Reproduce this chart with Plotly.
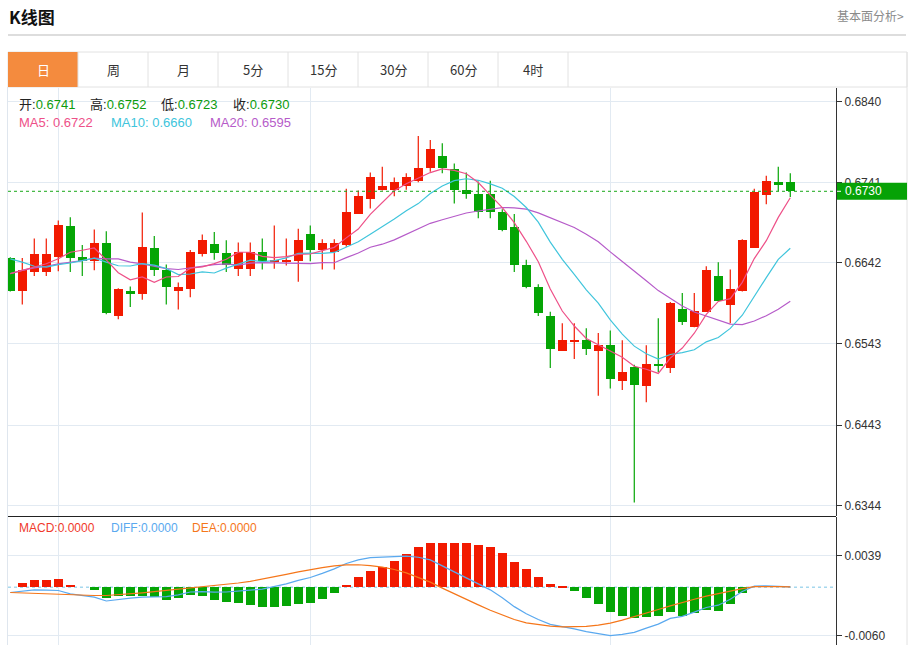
import plotly.graph_objects as go
import pandas as pd

# ---------------- data ----------------
opens = [0.6648, 0.6608, 0.6631, 0.6631, 0.6649, 0.6688, 0.6649, 0.6644, 0.6666, 0.6577,
         0.6607, 0.6604, 0.6661, 0.6634, 0.6608, 0.6610, 0.6653, 0.6665, 0.6654, 0.6635,
         0.6635, 0.6655, 0.6644, 0.6643, 0.6644, 0.6677, 0.6658, 0.6656, 0.6664, 0.6702,
         0.6720, 0.6732, 0.6731, 0.6737, 0.6743, 0.6758, 0.6773, 0.6757, 0.6732, 0.6727,
         0.6727, 0.6704, 0.6686, 0.6640, 0.6613, 0.6577, 0.6534, 0.6545, 0.6547, 0.6534,
         0.6541, 0.6497, 0.6514, 0.6491, 0.6518, 0.6513, 0.6586, 0.6563, 0.6582, 0.6626,
         0.6591, 0.6607, 0.6661, 0.6726, 0.6742, 0.6741]
highs = [0.6649, 0.6648, 0.6672, 0.6672, 0.6694, 0.6698, 0.6664, 0.6683, 0.6681, 0.6611,
         0.6613, 0.6704, 0.6675, 0.6640, 0.6618, 0.6658, 0.6677, 0.6680, 0.6670, 0.6667,
         0.6667, 0.6672, 0.6688, 0.6672, 0.6684, 0.6688, 0.6671, 0.6671, 0.6733, 0.6731,
         0.6753, 0.6760, 0.6747, 0.6752, 0.6798, 0.6793, 0.6789, 0.6764, 0.6753, 0.6742,
         0.6743, 0.6708, 0.6702, 0.6646, 0.6616, 0.6582, 0.6568, 0.6568, 0.6562, 0.6556,
         0.6559, 0.6547, 0.6517, 0.6541, 0.6574, 0.6594, 0.6605, 0.6605, 0.6638, 0.6643,
         0.6634, 0.6671, 0.6733, 0.6749, 0.6760, 0.6752]
lows = [0.6607, 0.6591, 0.6626, 0.6626, 0.6632, 0.6631, 0.6626, 0.6633, 0.6579, 0.6573,
        0.6588, 0.6597, 0.6626, 0.6591, 0.6585, 0.6600, 0.6650, 0.6646, 0.6631, 0.6626,
        0.6626, 0.6634, 0.6635, 0.6639, 0.6619, 0.6644, 0.6634, 0.6634, 0.6662, 0.6702,
        0.6709, 0.6731, 0.6724, 0.6732, 0.6741, 0.6754, 0.6752, 0.6715, 0.6721, 0.6697,
        0.6697, 0.6681, 0.6631, 0.6611, 0.6577, 0.6513, 0.6534, 0.6524, 0.6529, 0.6479,
        0.6488, 0.6486, 0.6348, 0.6471, 0.6508, 0.6507, 0.6566, 0.6563, 0.6582, 0.6595,
        0.6568, 0.6607, 0.6661, 0.6714, 0.6730, 0.6723]
closes = [0.6608, 0.6633, 0.6653, 0.6653, 0.6689, 0.6648, 0.6645, 0.6667, 0.6580, 0.6610,
          0.6605, 0.6662, 0.6634, 0.6613, 0.6613, 0.6656, 0.6670, 0.6654, 0.6640, 0.6656,
          0.6656, 0.6645, 0.6646, 0.6646, 0.6670, 0.6658, 0.6666, 0.6666, 0.6704, 0.6724,
          0.6748, 0.6736, 0.6741, 0.6747, 0.6759, 0.6782, 0.6758, 0.6732, 0.6727, 0.6705,
          0.6704, 0.6682, 0.6640, 0.6612, 0.6580, 0.6536, 0.6547, 0.6548, 0.6536, 0.6541,
          0.6499, 0.6508, 0.6492, 0.6518, 0.6515, 0.6593, 0.6570, 0.6583, 0.6633, 0.6595,
          0.6610, 0.6670, 0.6729, 0.6743, 0.6738, 0.6730]

# moving-average values at the start of the window (history not shown)
ma5_head = [0.6629, 0.6633, 0.6637, 0.6641]
ma10_head = [0.6647, 0.6643, 0.6638, 0.6637, 0.6640, 0.6642, 0.6645, 0.6648, 0.6643]
ma20_head = [0.6629, 0.6633, 0.6636, 0.6638, 0.6641, 0.6643, 0.6645, 0.6648, 0.6647, 0.6647,
             0.6643, 0.6641, 0.6638, 0.6635, 0.6634, 0.6636, 0.6638, 0.6640, 0.6641]

macd_hist = [0.0, 0.00054, 0.00091, 0.00095, 0.00099, 0.00029, 0.0, -0.00041, -0.00136, -0.00111,
             -0.00103, -0.00103, -0.00124, -0.00153, -0.00136, -0.00095, -0.00111, -0.00157, -0.00186, -0.00194,
             -0.00219, -0.00248, -0.00248, -0.00235, -0.00210, -0.00198, -0.00144, -0.00074, 0.00033, 0.00120,
             0.00198, 0.00256, 0.00330, 0.00413, 0.00495, 0.00553, 0.00553, 0.00545, 0.00545, 0.00528,
             0.00503, 0.00421, 0.00318, 0.00227, 0.00132, 0.00045, 0.00012, -0.00050, -0.00132, -0.00210,
             -0.00309, -0.00351, -0.00384, -0.00371, -0.00363, -0.00309, -0.00351, -0.00322, -0.00281, -0.00289,
             -0.00206, -0.00074, 0.0, 0.0, 0.0, 0.0]
diff_vals = [-0.00066, -0.00045, -0.00033, -0.00037, -0.00041, -0.00083, -0.00101, -0.00124, -0.00171, -0.00151,
             -0.00136, -0.00122, -0.00118, -0.00118, -0.00095, -0.00060, -0.00054, -0.00062, -0.00060, -0.00045,
             -0.00037, -0.00025, 0.00004, 0.00041, 0.00085, 0.00120, 0.00171, 0.00227, 0.00293, 0.00338,
             0.00367, 0.00375, 0.00384, 0.00384, 0.00371, 0.00338, 0.00264, 0.00190, 0.00120, 0.00045,
             -0.00033, -0.00132, -0.00241, -0.00328, -0.00400, -0.00460, -0.00485, -0.00516, -0.00551, -0.00575,
             -0.00600, -0.00584, -0.00559, -0.00507, -0.00458, -0.00386, -0.00361, -0.00309, -0.00252, -0.00223,
             -0.00149, -0.00054, 0.00012, 0.00017, 0.00010, 0.00004]
dea_vals = [-0.00066, -0.00072, -0.00078, -0.00085, -0.00091, -0.00097, -0.00101, -0.00103, -0.00103, -0.00095,
            -0.00085, -0.00070, -0.00056, -0.00041, -0.00027, -0.00012, 0.00002, 0.00017, 0.00033, 0.00052,
            0.00072, 0.00099, 0.00128, 0.00159, 0.00190, 0.00219, 0.00243, 0.00264, 0.00276, 0.00278,
            0.00268, 0.00248, 0.00219, 0.00177, 0.00124, 0.00062, -0.00012, -0.00083, -0.00153, -0.00219,
            -0.00285, -0.00342, -0.00400, -0.00441, -0.00466, -0.00483, -0.00491, -0.00491, -0.00485, -0.00470,
            -0.00446, -0.00408, -0.00367, -0.00322, -0.00276, -0.00231, -0.00186, -0.00149, -0.00111, -0.00078,
            -0.00045, -0.00017, 0.00006, 0.00010, 0.00008, 0.00004]

price_tick_labels = ["0.6840", "0.6741", "0.6642", "0.6543", "0.6443", "0.6344"]
macd_tick_labels = ["0.0039", "-0.0060"]
grid_x = [4, 25, 50]
tabs = ["日", "周", "月", "5分", "15分", "30分", "60分", "4时"]
last_price = 0.6730
ohlc_names = ["开", "高", "低", "收"]
ohlc_text = ["0.6741", "0.6752", "0.6723", "0.6730"]
ma_text = ["MA5: 0.6722", "MA10: 0.6660", "MA20: 0.6595"]
macd_text = ["MACD:0.0000", "DIFF:0.0000", "DEA:0.0000"]

# ---------------- styling ----------------
W, H = 910, 645
RED = "#f21a00"
GREEN = "#05a505"
MA5_C, MA10_C, MA20_C = "#ee5088", "#40c5dc", "#b65bc9"
DIFF_C, DEA_C = "#5aa9ef", "#f5761a"
GRID = "#e2eaf2"
FONT = "Liberation Sans, Noto Sans CJK SC, sans-serif"
CJK = "Noto Sans CJK SC, sans-serif"


def X(p):
    return p / W


def Y(p):
    return 1 - p / H


n = len(closes)
idx = list(range(n))
s = pd.Series(closes)


def moving(win, head):
    m = s.rolling(win).mean().tolist()
    m[:len(head)] = head
    return m


ma5 = moving(5, ma5_head)
ma10 = moving(10, ma10_head)
ma20 = moving(20, ma20_head)

fig = go.Figure()

# wicks
for col, cond in ((RED, lambda i: closes[i] >= opens[i]), (GREEN, lambda i: closes[i] < opens[i])):
    wx, wy = [], []
    for i in idx:
        if cond(i):
            wx += [i, i, None]
            wy += [lows[i], highs[i], None]
    fig.add_trace(go.Scatter(x=wx, y=wy, mode="lines", line=dict(color=col, width=1.2),
                             hoverinfo="skip", xaxis="x", yaxis="y"))

# bodies
up = [i for i in idx if closes[i] >= opens[i]]
dn = [i for i in idx if closes[i] < opens[i]]
fig.add_trace(go.Bar(x=up, y=[closes[i] - opens[i] for i in up], base=[opens[i] for i in up],
                     width=0.75, marker=dict(color=RED, line=dict(width=0)), xaxis="x", yaxis="y"))
fig.add_trace(go.Bar(x=dn, y=[opens[i] - closes[i] for i in dn], base=[closes[i] for i in dn],
                     width=0.75, marker=dict(color=GREEN, line=dict(width=0)), xaxis="x", yaxis="y"))

# moving averages
for vals, col in ((ma20, MA20_C), (ma10, MA10_C), (ma5, MA5_C)):
    fig.add_trace(go.Scatter(x=idx, y=vals, mode="lines", line=dict(color=col, width=1.2),
                             xaxis="x", yaxis="y"))

# MACD
fig.add_trace(go.Bar(x=idx, y=macd_hist, width=0.75,
                     marker=dict(color=[RED if v >= 0 else GREEN for v in macd_hist], line=dict(width=0)),
                     xaxis="x2", yaxis="y2"))
fig.add_trace(go.Scatter(x=idx, y=diff_vals, mode="lines", line=dict(color=DIFF_C, width=1.2),
                         xaxis="x2", yaxis="y2"))
fig.add_trace(go.Scatter(x=idx, y=dea_vals, mode="lines", line=dict(color=DEA_C, width=1.2),
                         xaxis="x2", yaxis="y2"))

xr = [-0.19, 68.81]
xdom = [X(8), X(836)]
common_x = dict(range=xr, domain=xdom, tickvals=grid_x, showticklabels=False, ticks="",
                showgrid=True, gridcolor=GRID, gridwidth=1, zeroline=False, showline=False, fixedrange=True)

price_vals = [float(t) for t in price_tick_labels]
macd_vals = [float(t) for t in macd_tick_labels]

fig.update_layout(
    width=W, height=H, margin=dict(l=0, r=0, t=0, b=0),
    paper_bgcolor="white", plot_bgcolor="white",
    showlegend=False, barmode="overlay", bargap=0,
    font=dict(family=FONT, size=12, color="#333"),
    xaxis=dict(anchor="y", **common_x),
    xaxis2=dict(anchor="y2", **common_x),
    yaxis=dict(domain=[Y(516), Y(88)], range=[0.63314, 0.68568], side="right", anchor="x",
               tickvals=price_vals, ticktext=price_tick_labels, ticks="outside", ticklen=5,
               tickcolor="#333", showline=True, linecolor="#333", linewidth=1,
               showgrid=True, gridcolor=GRID, zeroline=False, tickfont=dict(size=12, color="#333")),
    yaxis2=dict(domain=[0, Y(517)], range=[-0.00716, 0.00869], side="right", anchor="x2",
                tickvals=macd_vals, ticktext=macd_tick_labels, ticks="outside", ticklen=5,
                tickcolor="#333", showline=True, linecolor="#333", linewidth=1,
                showgrid=True, gridcolor=GRID, zeroline=False, tickfont=dict(size=12, color="#333")),
)

shapes = []
ann = []

# header
ann.append(dict(x=X(7), y=Y(16), xref="paper", yref="paper", xanchor="left", yanchor="middle",
                text="<b>K线图</b>", showarrow=False, font=dict(family=CJK, size=17, color="#111")))
ann.append(dict(x=X(906), y=Y(15), xref="paper", yref="paper", xanchor="right", yanchor="middle",
                text="基本面分析>", showarrow=False, font=dict(family=CJK, size=12, color="#8a8a8a")))
shapes.append(dict(type="line", xref="paper", yref="paper", x0=X(8), x1=X(906), y0=Y(35), y1=Y(35),
                   line=dict(color="#d2d2d2", width=1.5)))

# tab bar
shapes.append(dict(type="rect", xref="paper", yref="paper", x0=X(8), x1=X(907), y0=Y(87), y1=Y(52),
                   line=dict(color="#e2e2e2", width=1), fillcolor="white", layer="below"))
shapes.append(dict(type="rect", xref="paper", yref="paper", x0=X(8), x1=X(78), y0=Y(87), y1=Y(52),
                   line=dict(width=0), fillcolor="#f48b3e"))
for k, t in enumerate(tabs):
    x0 = 8 + 70 * k
    if k > 0:
        shapes.append(dict(type="line", xref="paper", yref="paper", x0=X(x0), x1=X(x0), y0=Y(87), y1=Y(52),
                           line=dict(color="#e2e2e2", width=1)))
    ann.append(dict(x=X(x0 + 35), y=Y(70), xref="paper", yref="paper", xanchor="center", yanchor="middle",
                    text=t, showarrow=False,
                    font=dict(family=CJK, size=13, color="white" if k == 0 else "#333")))
shapes.append(dict(type="line", xref="paper", yref="paper", x0=X(568), x1=X(568), y0=Y(87), y1=Y(52),
                   line=dict(color="#e2e2e2", width=1)))

# frame lines
shapes.append(dict(type="line", xref="paper", yref="paper", x0=X(7.5), x1=X(7.5), y0=0, y1=Y(87),
                   line=dict(color="#dfe6ee", width=1)))
shapes.append(dict(type="line", xref="paper", yref="paper", x0=X(907), x1=X(907), y0=0, y1=Y(52),
                   line=dict(color="#e2e2e2", width=1)))
shapes.append(dict(type="line", xref="paper", yref="paper", x0=X(8), x1=X(836), y0=Y(516.5), y1=Y(516.5),
                   line=dict(color="#222", width=1.2)))

# last-price dotted line and label
shapes.append(dict(type="line", xref="paper", yref="y", x0=X(8), x1=X(836), y0=last_price, y1=last_price,
                   line=dict(color="#18a818", width=1, dash="dot")))
half = 8.5 / 8145
shapes.append(dict(type="rect", xref="paper", yref="y", x0=X(837), x1=X(907),
                   y0=last_price - half, y1=last_price + half, line=dict(width=0),
                   fillcolor="#06a206", layer="above"))
shapes.append(dict(type="line", xref="paper", yref="y", x0=X(837), x1=X(841), y0=last_price, y1=last_price,
                   line=dict(color="white", width=1)))
ann.append(dict(x=X(843), y=last_price, xref="paper", yref="y", xanchor="left", yanchor="middle",
                text=f"{last_price:.4f}", showarrow=False, font=dict(size=12, color="white")))

# MACD zero dotted line
shapes.append(dict(type="line", xref="paper", yref="y2", x0=X(8), x1=X(836), y0=0, y1=0,
                   line=dict(color="#a6d8ee", width=1.5, dash="dot"), layer="below"))

# OHLC legend
name_x = [17, 88, 159, 231]
for k in range(4):
    ann.append(dict(x=X(name_x[k]), y=Y(104), xref="paper", yref="paper", xanchor="left", yanchor="middle",
                    text=f"<span style='color:#222'>{ohlc_names[k]}:</span><span style='color:#0d9c0d'>{ohlc_text[k]}</span>",
                    showarrow=False, font=dict(size=13)))
for k, (t, c) in enumerate(zip(ma_text, (MA5_C, MA10_C, MA20_C))):
    ann.append(dict(x=X([17, 109, 208][k]), y=Y(122), xref="paper", yref="paper", xanchor="left",
                    yanchor="middle", text=t, showarrow=False, font=dict(size=13, color=c)))
for k, (t, c) in enumerate(zip(macd_text, ("#f0392b", DIFF_C, DEA_C))):
    ann.append(dict(x=X([17, 109, 190][k]), y=Y(528), xref="paper", yref="paper", xanchor="left",
                    yanchor="middle", text=t, showarrow=False, font=dict(size=12, color=c)))

fig.update_layout(shapes=shapes, annotations=ann)

fig.write_html("out.html", config={"displayModeBar": False},
               post_script="document.body.style.margin='0';document.body.style.overflow='hidden';")
